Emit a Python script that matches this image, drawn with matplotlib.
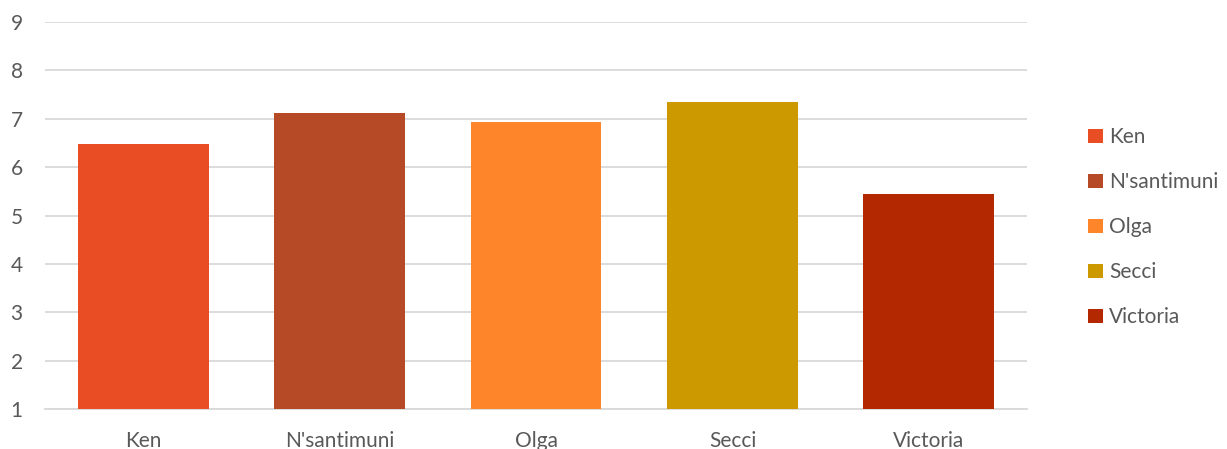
import matplotlib
matplotlib.use("Agg")
import matplotlib.pyplot as plt
from matplotlib.patches import Patch

categories = ["Ken", "N'santimuni", "Olga", "Secci", "Victoria"]
values = [6.47, 7.11, 6.93, 7.34, 5.44]
colors = ["#E84D23", "#B74A26", "#FE8529", "#CC9900", "#B32800"]
yticks = [1, 2, 3, 4, 5, 6, 7, 8, 9]

plt.rcParams['font.family'] = ['Lato', 'DejaVu Sans']
text_color = "#595959"
fs = 15

fig = plt.figure(figsize=(12.27, 4.49), dpi=100)
ax = fig.add_axes([45/1227, 1-409/449, (1027-45)/1227, (409-22)/449])

x = range(len(categories))
ax.bar(x, [v - 1 for v in values], bottom=1, width=0.667, color=colors, zorder=3)

ax.set_ylim(1, 9)
ax.set_xlim(-0.5, len(categories) - 0.5)
ax.set_yticks(yticks)
ax.set_yticklabels([str(t) for t in yticks])
ax.set_xticks(list(x))
ax.set_xticklabels(categories)
ax.yaxis.grid(True, color="#D9D9D9", linewidth=1.3, zorder=0)
ax.tick_params(axis='both', length=0, labelsize=fs, colors=text_color)
ax.tick_params(axis='y', pad=16)
ax.tick_params(axis='x', pad=16)
for s in ["top", "right", "left"]:
    ax.spines[s].set_visible(False)
ax.spines["bottom"].set_color("#D9D9D9")
ax.spines["bottom"].set_linewidth(1.3)

handles = [Patch(facecolor=c, edgecolor='none') for c in colors]
leg = fig.legend(handles, categories, loc='upper left',
                 bbox_to_anchor=(1078/1227, 1-117/449), frameon=False,
                 fontsize=fs, handlelength=0.68, handleheight=0.68,
                 handletextpad=0.3, labelspacing=1.2, borderpad=0)
for t in leg.get_texts():
    t.set_color(text_color)

fig.savefig("out.png", dpi=100)
